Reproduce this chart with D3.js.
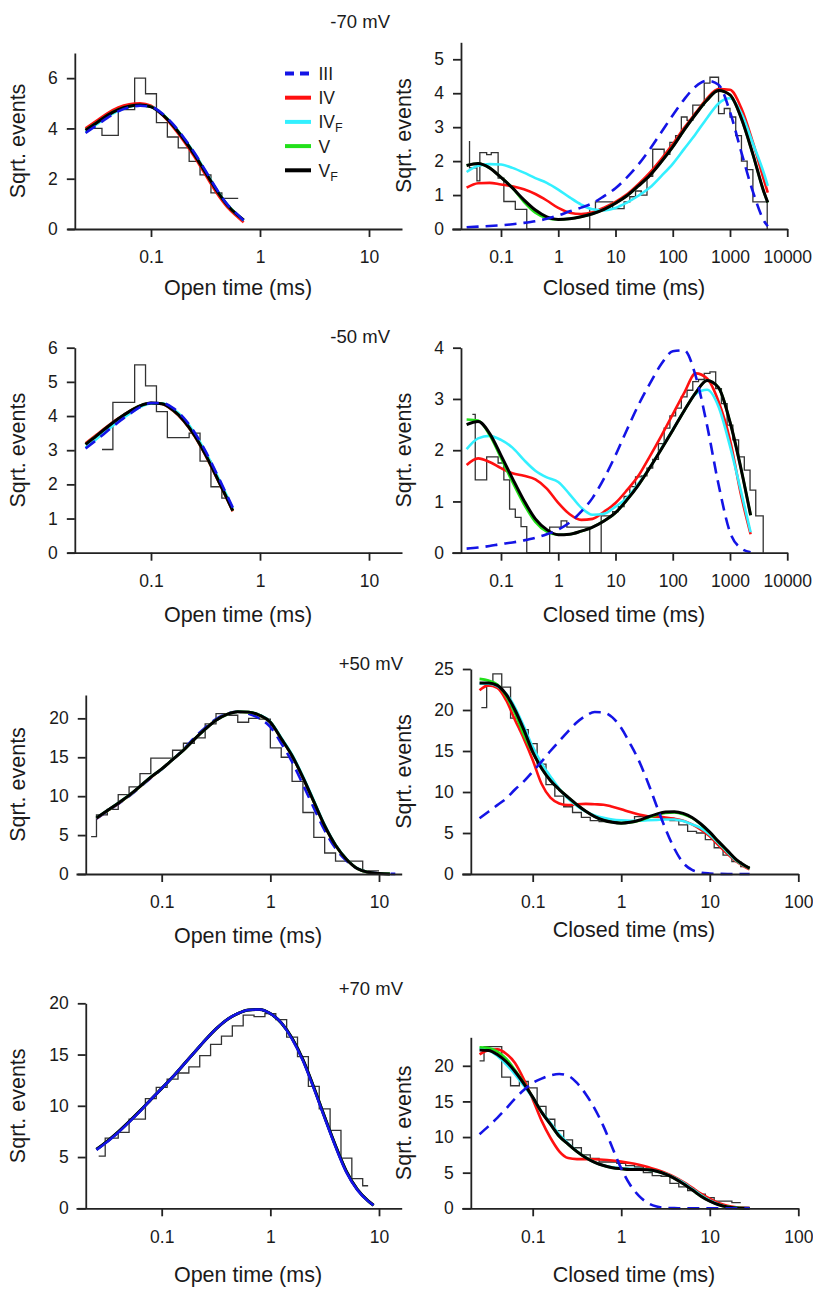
<!DOCTYPE html>
<html>
<head>
<meta charset="utf-8">
<script src="https://cdn.jsdelivr.net/npm/d3@7"></script>
<style>
  body { margin: 0; background: #fff; }
  svg text { font-family: "Liberation Sans", Arial, sans-serif; fill: #1a1a1a; }
</style>
</head>
<body>
<div id="chart-container"></div>
<script>
// ---- -70 mV, open times ----
const m70oT   = [0.0251, 0.0316, 0.0398, 0.0501, 0.0631, 0.0794, 0.1, 0.1259, 0.1585, 0.1995, 0.2512, 0.3162, 0.3981, 0.5012, 0.631, 0.7079];
const m70oIII = [3.82, 4.12, 4.42, 4.68, 4.84, 4.9, 4.86, 4.6, 4.18, 3.64, 3.02, 2.32, 1.6, 0.98, 0.55, 0.34];
const m70oIV  = [4.0, 4.3, 4.6, 4.83, 4.96, 5.0, 4.9, 4.55, 4.07, 3.5, 2.86, 2.15, 1.45, 0.87, 0.46, 0.27];
const m70oIVF = [3.86, 4.16, 4.46, 4.7, 4.86, 4.91, 4.86, 4.59, 4.16, 3.62, 3.0, 2.3, 1.58, 0.97, 0.54, 0.34];
const m70oV   = [3.93, 4.22, 4.52, 4.75, 4.88, 4.93, 4.86, 4.57, 4.13, 3.58, 2.95, 2.25, 1.55, 0.95, 0.53, 0.36];
const m70oVF  = [3.93, 4.22, 4.52, 4.75, 4.88, 4.93, 4.86, 4.57, 4.13, 3.58, 2.95, 2.25, 1.55, 0.95, 0.53, 0.36];
const m70oHist = [[0.0282, 4.0], [0.0355, 3.72], [0.0501, 4.75], [0.0708, 6.0], [0.0891, 5.38], [0.1122, 4.23], [0.1413, 3.66],
  [0.1778, 3.23], [0.2239, 2.69], [0.2818, 2.15], [0.3548, 1.44], [0.4467, 1.22], [0.631, 1.22]];

// ---- -70 mV, closed times ----
const m70cT   = [0.0251, 0.0398, 0.0631, 0.1, 0.1585, 0.2512, 0.3981, 0.631, 1, 1.585, 2.512, 3.981, 6.31, 10, 15.85, 25.12, 39.81, 63.1, 100, 158.5, 251.2, 398.1, 631, 1000, 1585, 2512, 3981, 4571];
const m70cIII = [0.05, 0.07, 0.09, 0.11, 0.14, 0.18, 0.23, 0.3, 0.4, 0.52, 0.63, 0.76, 0.97, 1.2, 1.52, 1.9, 2.35, 2.85, 3.35, 3.82, 4.2, 4.37, 4.25, 3.45, 2.25, 1.1, 0.22, 0.08];
const m70cIV  = [1.22, 1.35, 1.36, 1.31, 1.26, 1.17, 1.03, 0.84, 0.62, 0.48, 0.44, 0.49, 0.63, 0.8, 1.02, 1.32, 1.66, 2.06, 2.5, 2.98, 3.42, 3.85, 4.12, 4.1, 3.55, 2.55, 1.4, 1.07];
const m70cIVF = [1.68, 1.86, 1.91, 1.9, 1.8, 1.66, 1.5, 1.36, 1.16, 0.93, 0.72, 0.58, 0.55, 0.62, 0.78, 0.98, 1.22, 1.56, 1.92, 2.36, 2.8, 3.27, 3.7, 3.85, 3.4, 2.52, 1.6, 1.27];
const m70cV   = [1.87, 1.93, 1.8, 1.52, 1.21, 0.8, 0.48, 0.32, 0.28, 0.3, 0.36, 0.45, 0.58, 0.76, 0.98, 1.27, 1.58, 1.98, 2.42, 2.92, 3.38, 3.8, 4.08, 3.95, 3.25, 2.2, 1.05, 0.78];
const m70cVF  = [1.87, 1.93, 1.8, 1.52, 1.21, 0.86, 0.56, 0.36, 0.28, 0.3, 0.36, 0.45, 0.58, 0.76, 0.98, 1.27, 1.58, 1.98, 2.42, 2.92, 3.38, 3.8, 4.08, 3.95, 3.25, 2.2, 1.05, 0.78];
const m70cHist = [[0.0282, 2.59], [0.0282, 1.8], [0.038, 1.42], [0.0427, 2.25], [0.0562, 2.19], [0.0676, 2.25], [0.0891, 1.5],
  [0.1122, 0.81], [0.1778, 0.58], [0.2818, 0], [3.548, 0.58], [4.467, 0.8], [8.913, 0.6], [14.13, 0.8], [17.78, 0.95],
  [22.39, 1.12], [28.18, 1.0], [35.48, 1.55], [44.67, 2.35], [70.79, 2.2], [89.13, 2.55], [112.2, 2.75], [141.3, 3.3],
  [177.8, 3.2], [223.9, 3.65], [354.8, 4.3], [446.7, 4.47], [631, 3.4], [794.3, 3.55], [1000, 3.3], [1259, 2.75],
  [1585, 2.0], [1995, 1.75], [2512, 0.8], [4467, 0]];

// ---- -50 mV, open times ----
const m50oT   = [0.0251, 0.0316, 0.0398, 0.0501, 0.0631, 0.0794, 0.1, 0.1259, 0.1585, 0.1995, 0.2512, 0.3162, 0.3981, 0.5012, 0.5623];
const m50oIII = [3.05, 3.3, 3.56, 3.82, 4.05, 4.26, 4.38, 4.38, 4.24, 3.95, 3.52, 2.97, 2.33, 1.66, 1.32];
const m50oIV  = [3.2, 3.45, 3.7, 3.93, 4.14, 4.3, 4.38, 4.35, 4.16, 3.85, 3.41, 2.85, 2.21, 1.55, 1.21];
const m50oIVF = [3.08, 3.33, 3.59, 3.84, 4.06, 4.26, 4.37, 4.37, 4.22, 3.93, 3.5, 2.95, 2.31, 1.64, 1.3];
const m50oV   = [3.17, 3.42, 3.68, 3.92, 4.13, 4.3, 4.38, 4.36, 4.18, 3.87, 3.43, 2.87, 2.23, 1.57, 1.23];
const m50oVF  = [3.17, 3.42, 3.68, 3.92, 4.13, 4.3, 4.38, 4.36, 4.18, 3.87, 3.43, 2.87, 2.23, 1.57, 1.23];
const m50oHist = [[0.0355, 3.02], [0.0447, 4.4], [0.0708, 5.5], [0.0891, 4.88], [0.1122, 4.13], [0.1413, 3.37],
  [0.2239, 3.5], [0.2818, 2.68], [0.3548, 1.93], [0.4467, 1.6], [0.5012, 1.6]];

// ---- -50 mV, closed times ----
const m50cT   = [0.0251, 0.0398, 0.0631, 0.1, 0.1585, 0.2512, 0.3981, 0.631, 1, 1.585, 2.512, 3.981, 6.31, 10, 15.85, 25.12, 39.81, 63.1, 100, 158.5, 251.2, 398.1, 631, 1000, 1585, 2291];
const m50cIII = [0.08, 0.1, 0.13, 0.17, 0.2, 0.24, 0.29, 0.36, 0.45, 0.59, 0.8, 1.07, 1.45, 1.9, 2.4, 2.88, 3.3, 3.68, 3.93, 3.95, 3.45, 2.48, 1.33, 0.4, 0.08, 0.01];
const m50cIV  = [1.71, 1.84, 1.77, 1.65, 1.55, 1.5, 1.43, 1.25, 0.97, 0.75, 0.64, 0.66, 0.8, 0.97, 1.22, 1.5, 1.88, 2.28, 2.7, 3.12, 3.5, 3.4, 2.95, 2.2, 1.09, 0.36];
const m50cIVF = [2.02, 2.23, 2.28, 2.2, 2.05, 1.81, 1.6, 1.47, 1.38, 1.14, 0.88, 0.74, 0.76, 0.9, 1.07, 1.35, 1.66, 2.03, 2.4, 2.77, 3.1, 3.18, 2.85, 2.08, 1.16, 0.4];
const m50cV   = [2.6, 2.58, 2.3, 1.85, 1.38, 0.95, 0.6, 0.41, 0.35, 0.36, 0.42, 0.5, 0.62, 0.78, 1.03, 1.32, 1.66, 2.02, 2.39, 2.77, 3.12, 3.36, 3.22, 2.55, 1.6, 0.73];
const m50cVF  = [2.5, 2.56, 2.33, 1.9, 1.45, 1.02, 0.66, 0.45, 0.35, 0.36, 0.42, 0.5, 0.62, 0.78, 1.03, 1.32, 1.66, 2.02, 2.39, 2.77, 3.12, 3.36, 3.22, 2.55, 1.6, 0.73];
const m50cHist = [[0.0316, 2.7], [0.0355, 1.42], [0.0562, 1.87], [0.0891, 1.75], [0.1122, 1.42], [0.1413, 0.85],
  [0.1778, 0.69], [0.2239, 0.51], [0.2818, 0], [0.7079, 0.5], [0.8913, 0.5], [1.122, 0.62], [1.413, 0.5], [3.548, 0],
  [5.623, 0.72], [8.913, 0.8], [11.22, 0.9], [14.13, 1.1], [17.78, 1.29], [22.39, 1.48], [28.18, 1.5], [35.48, 1.65],
  [44.67, 1.82], [56.23, 2.13], [70.79, 2.43], [89.13, 2.67], [112.2, 2.82], [141.3, 3.04], [177.8, 3.17], [223.9, 3.34],
  [281.8, 3.38], [354.8, 3.5], [446.7, 3.53], [562.3, 3.2], [707.9, 2.91], [891.3, 2.49], [1122, 2.2], [1413, 1.87],
  [1778, 1.61], [2239, 1.22], [2818, 0.72], [3802, 0]];

// ---- +50 mV, open times ----
const p50oT   = [0.0251, 0.0316, 0.0398, 0.0501, 0.0631, 0.0794, 0.1, 0.1259, 0.1585, 0.1995, 0.2512, 0.3162, 0.3981, 0.5012, 0.631, 0.7943, 1, 1.259, 1.585, 1.995, 2.512, 3.162, 3.981, 5.012, 6.31, 7.943, 10, 12.59, 14.13];
const p50oIII = [7.1, 8.05, 9.0, 10.0, 11.15, 12.35, 13.45, 14.7, 16.0, 17.5, 18.8, 19.9, 20.6, 20.85, 20.6, 20.0, 18.9, 16.8, 14.4, 11.5, 8.5, 5.6, 3.3, 1.7, 0.7, 0.25, 0.08, 0.02, 0.01];
const p50oIV  = [7.15, 8.1, 9.05, 10.05, 11.2, 12.4, 13.5, 14.7, 15.9, 17.3, 18.6, 19.75, 20.5, 20.85, 20.8, 20.4, 19.5, 17.4, 15.2, 12.4, 9.3, 6.2, 3.7, 1.9, 0.7, 0.22, 0.06, 0.01, null];
const p50oIVF = [7.2, 8.15, 9.1, 10.1, 11.25, 12.45, 13.5, 14.7, 15.9, 17.3, 18.6, 19.75, 20.5, 20.85, 20.82, 20.45, 19.58, 17.52, 15.35, 12.55, 9.45, 6.32, 3.78, 1.95, 0.72, 0.23, 0.06, 0.01, null];
const p50oV   = [7.2, 8.15, 9.1, 10.1, 11.25, 12.45, 13.5, 14.7, 15.9, 17.3, 18.6, 19.75, 20.5, 20.85, 20.8, 20.4, 19.5, 17.4, 15.2, 12.4, 9.3, 6.2, 3.7, 1.9, 0.7, 0.22, 0.06, 0.01, null];
const p50oVF  = [7.2, 8.15, 9.1, 10.1, 11.25, 12.45, 13.5, 14.7, 15.9, 17.3, 18.6, 19.75, 20.5, 20.85, 20.8, 20.4, 19.5, 17.4, 15.2, 12.4, 9.3, 6.2, 3.7, 1.9, 0.7, 0.22, 0.06, 0.01, null];
const p50oHist = [[0.0224, 4.8], [0.0251, 7.6], [0.0316, 8.3], [0.0398, 10.2], [0.0501, 11.2], [0.0631, 12.9], [0.0794, 14.9],
  [0.1259, 15.9], [0.1585, 16.8], [0.1995, 17.5], [0.2512, 19.3], [0.3162, 20.6], [0.3981, 20.4], [0.5012, 19.5],
  [0.631, 20.0], [0.7943, 19.9], [1, 16.2], [1.259, 15.0], [1.585, 11.9], [1.995, 7.9], [2.512, 4.7], [3.162, 2.7],
  [3.981, 1.65], [7.079, 0.4], [10, 0.4]];

// ---- +50 mV, closed times ----
const p50cT   = [0.0251, 0.0316, 0.0398, 0.0501, 0.0631, 0.0794, 0.1, 0.1259, 0.1585, 0.1995, 0.2512, 0.3162, 0.3981, 0.5012, 0.631, 0.7943, 1, 1.259, 1.585, 1.995, 2.512, 3.162, 3.981, 5.012, 6.31, 7.943, 10, 12.59, 15.85, 19.95, 25.12, 28.18];
const p50cIII = [6.8, 7.6, 8.4, 9.2, 10.3, 11.3, 12.5, 13.7, 15.0, 16.2, 17.4, 18.5, 19.3, 19.75, 19.7, 19.1, 17.8, 15.9, 13.8, 11.2, 8.3, 5.5, 3.1, 1.35, 0.5, 0.17, 0.06, 0.02, 0, 0, 0, 0];
const p50cIV  = [22.4, 23.0, 22.7, 21.2, 18.8, 16.5, 13.9, 11.0, 9.3, 8.6, 8.4, 8.5, 8.55, 8.5, 8.45, 8.2, 7.9, 7.55, 7.25, 7.05, 7.0, 6.9, 6.75, 6.5, 6.05, 5.4, 4.6, 3.5, 2.45, 1.52, 0.85, 0.57];
const p50cIVF = [23.2, 23.2, 22.9, 22.0, 20.3, 18.0, 15.5, 13.5, 11.9, 10.4, 9.2, 8.3, 7.6, 7.15, 6.85, 6.65, 6.55, 6.5, 6.5, 6.55, 6.6, 6.65, 6.65, 6.45, 6.05, 5.6, 4.8, 3.75, 2.65, 1.63, 0.95, 0.65];
const p50cV   = [23.8, 23.6, 23.1, 21.7, 19.6, 17.0, 14.8, 12.9, 11.4, 10.3, 9.35, 8.45, 7.65, 7.0, 6.55, 6.3, 6.2, 6.3, 6.5, 6.85, 7.2, 7.45, 7.5, 7.3, 6.85, 6.05, 5.05, 3.9, 2.8, 1.72, 0.98, 0.68];
const p50cVF  = [23.3, 23.3, 23.0, 21.9, 20.0, 17.6, 14.9, 12.9, 11.4, 10.3, 9.35, 8.45, 7.65, 7.0, 6.55, 6.3, 6.2, 6.3, 6.55, 6.95, 7.3, 7.55, 7.6, 7.4, 6.9, 6.1, 5.1, 3.95, 2.85, 1.75, 1.0, 0.7];
const p50cHist = [[0.0263, 20.3], [0.0302, 22.9], [0.0355, 24.4], [0.0447, 22.8], [0.0562, 19.0], [0.0708, 17.6],
  [0.0891, 15.9], [0.1122, 13.4], [0.1413, 10.9], [0.1778, 9.5], [0.2239, 8.2], [0.2818, 7.5], [0.3548, 6.9],
  [0.4467, 6.5], [0.5623, 6.4], [0.7079, 6.6], [0.8913, 6.3], [1.122, 6.5], [1.413, 7.0], [1.778, 7.0], [2.239, 6.9],
  [2.818, 6.8], [3.548, 6.5], [4.467, 6.0], [5.623, 5.2], [7.079, 5.0], [8.913, 4.2], [11.22, 3.2], [14.13, 2.3],
  [17.78, 1.5], [22.39, 0.9], [28.18, 0.9]];

// ---- +70 mV, open times ----
const p70oT   = [0.0251, 0.0316, 0.0398, 0.0501, 0.0631, 0.0794, 0.1, 0.1259, 0.1585, 0.1995, 0.2512, 0.3162, 0.3981, 0.5012, 0.631, 0.7943, 1, 1.259, 1.585, 1.995, 2.512, 3.162, 3.981, 5.012, 6.31, 7.943, 8.913];
const p70oIII = [5.7, 6.5, 7.4, 8.4, 9.45, 10.6, 11.7, 12.8, 14.0, 15.2, 16.4, 17.5, 18.4, 19.0, 19.35, 19.4, 19.0, 18.1, 16.5, 14.4, 11.7, 8.8, 6.0, 3.5, 1.8, 0.7, 0.3];
const p70oIV  = [5.75, 6.55, 7.45, 8.45, 9.5, 10.6, 11.7, 12.8, 14.0, 15.2, 16.4, 17.5, 18.4, 19.0, 19.35, 19.4, 19.0, 18.1, 16.6, 14.5, 11.8, 8.9, 6.1, 3.6, 1.85, 0.72, 0.3];
const p70oIVF = [5.75, 6.55, 7.45, 8.45, 9.5, 10.6, 11.7, 12.8, 14.0, 15.2, 16.4, 17.5, 18.4, 19.0, 19.35, 19.4, 19.0, 18.1, 16.6, 14.5, 11.8, 8.9, 6.1, 3.6, 1.85, 0.72, 0.3];
const p70oV   = [5.75, 6.55, 7.45, 8.45, 9.5, 10.6, 11.7, 12.8, 14.0, 15.2, 16.4, 17.5, 18.4, 19.0, 19.35, 19.4, 19.0, 18.1, 16.6, 14.5, 11.8, 8.9, 6.1, 3.6, 1.85, 0.72, 0.3];
const p70oVF  = [5.75, 6.55, 7.45, 8.45, 9.5, 10.6, 11.7, 12.8, 14.0, 15.2, 16.4, 17.5, 18.4, 19.0, 19.35, 19.4, 19.0, 18.1, 16.6, 14.5, 11.8, 8.9, 6.1, 3.6, 1.85, 0.72, 0.3];
const p70oHist = [[0.0263, 5.1], [0.0302, 6.85], [0.0398, 7.4], [0.0501, 8.7], [0.0708, 10.7], [0.0891, 11.8],
  [0.1122, 12.6], [0.1413, 13.2], [0.1778, 13.8], [0.2239, 14.9], [0.2818, 16.0], [0.3548, 16.8], [0.4467, 17.8],
  [0.5623, 18.85], [0.7079, 18.7], [0.8913, 19.0], [1.122, 18.4], [1.413, 16.7], [1.778, 14.8], [2.239, 11.9],
  [2.818, 9.7], [3.548, 7.6], [4.467, 4.9], [5.623, 2.9], [7.079, 2.2], [7.943, 2.2]];

// ---- +70 mV, closed times ----
const p70cT   = [0.0251, 0.0316, 0.0398, 0.0501, 0.0631, 0.0794, 0.1, 0.1259, 0.1585, 0.1995, 0.2512, 0.3162, 0.3981, 0.5012, 0.631, 0.7943, 1, 1.259, 1.585, 1.995, 2.512, 3.162, 3.981, 5.012, 6.31, 7.943, 10, 12.59, 15.85, 19.95, 25.12, 28.18];
const p70cIII = [10.4, 11.5, 12.7, 14.0, 15.4, 16.6, 17.6, 18.2, 18.65, 18.85, 18.6, 17.6, 16.0, 14.0, 11.5, 8.5, 5.6, 3.3, 1.75, 0.75, 0.25, 0.06, 0.02, 0, 0, 0, 0, 0, 0, 0, 0, 0];
const p70cIV  = [21.6, 22.2, 22.3, 21.7, 20.4, 18.1, 15.3, 12.3, 9.9, 8.0, 7.05, 6.9, 6.9, 6.88, 6.82, 6.7, 6.55, 6.35, 6.1, 5.8, 5.4, 4.95, 4.4, 3.7, 2.9, 2.05, 1.35, 0.75, 0.36, 0.15, 0.06, 0.04];
const p70cIVF = [22.5, 22.2, 21.4, 20.2, 18.8, 17.2, 15.5, 13.6, 12.0, 10.4, 9.1, 8.0, 7.1, 6.45, 6.0, 5.75, 5.6, 5.55, 5.5, 5.4, 5.2, 4.85, 4.3, 3.6, 2.75, 1.85, 1.1, 0.55, 0.22, 0.08, 0.02, 0.01];
const p70cV   = [22.6, 22.5, 22.0, 21.0, 19.4, 17.6, 15.6, 13.5, 11.8, 10.1, 9.0, 7.95, 7.1, 6.45, 6.0, 5.7, 5.55, 5.45, 5.45, 5.4, 5.2, 4.8, 4.2, 3.45, 2.6, 1.7, 1.0, 0.5, 0.2, 0.06, 0.01, 0.0];
const p70cVF  = [22.2, 22.15, 21.6, 20.6, 19.2, 17.5, 15.6, 13.5, 11.8, 10.1, 9.0, 7.95, 7.1, 6.45, 6.0, 5.7, 5.55, 5.45, 5.45, 5.4, 5.2, 4.8, 4.2, 3.45, 2.6, 1.7, 1.0, 0.5, 0.2, 0.06, 0.01, 0.0];
const p70cHist = [[0.0251, 20.7], [0.0282, 22.7], [0.0447, 18.4], [0.0562, 17.2], [0.0708, 17.8], [0.0891, 16.9],
  [0.1122, 14.3], [0.1413, 12.5], [0.1778, 10.9], [0.2239, 9.6], [0.2818, 8.5], [0.3548, 7.5], [0.4467, 7.0],
  [0.5623, 6.5], [0.7079, 6.5], [0.8913, 6.3], [1.122, 6.0], [1.413, 5.8], [1.778, 5.0], [2.239, 4.6], [2.818, 4.5],
  [3.548, 3.5], [4.467, 3.0], [5.623, 2.5], [7.079, 2.0], [8.913, 1.5], [11.22, 1.0], [17.78, 0.8], [22.39, 0.8]];

const models = ["III", "IV", "IVF", "V", "VF"];
const legendLabels = [["III", ""], ["IV", ""], ["IV", "F"], ["V", ""], ["V", "F"]];
const colors = { III: "#1414e6", IV: "#ff1010", IVF: "#33f0ff", V: "#22e01a", VF: "#000000" };

const svg = d3.select("#chart-container")
  .append("svg")
    .attr("width", 813)
    .attr("height", 1290)
    .style("background", "#fff");

// layout of the eight panels (pixel positions only)
const openLeftTop = { xRef: [[0.1, 151], [10, 369]], xExt: [67, 402], xTicks: [0.1, 1, 10], yLabelX: 25 };
const closedRightTop = { xRef: [[0.1, 501], [1000, 730]], xExt: [451.7, 787.3], xTicks: [0.1, 1, 10, 100, 1000, 10000], yLabelX: 411 };
const openLeftBot = { xRef: [[0.1, 161.7], [10, 379]], xExt: [76, 401.7], xTicks: [0.1, 1, 10], yLabelX: 25 };
const closedRightBot = { xRef: [[0.1, 532.7], [100, 798.3]], xExt: [461.7, 798.3], xTicks: [0.1, 1, 10, 100], yLabelX: 411 };

const panels = [
  { ...openLeftTop, t: m70oT, hist: m70oHist, fits: { III: m70oIII, IV: m70oIV, IVF: m70oIVF, V: m70oV, VF: m70oVF },
    yRef: [[0, 229], [6, 53]], yMax: 7, yTicks: [0, 2, 4, 6], xLabel: "Open time (ms)", xLabelPos: [238, 295],
    title: "-70 mV", titlePos: [390, 28], legend: true },
  { ...closedRightTop, t: m70cT, hist: m70cHist, fits: { III: m70cIII, IV: m70cIV, IVF: m70cIVF, V: m70cV, VF: m70cVF },
    yRef: [[0, 229], [5, 42.3]], yMax: 5.5, yTicks: [0, 1, 2, 3, 4, 5], xLabel: "Closed time (ms)", xLabelPos: [624, 295] },
  { ...openLeftTop, t: m50oT, hist: m50oHist, fits: { III: m50oIII, IV: m50oIV, IVF: m50oIVF, V: m50oV, VF: m50oVF },
    yRef: [[0, 552.7], [6, 347.7]], yMax: 6, yTicks: [0, 1, 2, 3, 4, 5, 6], xLabel: "Open time (ms)", xLabelPos: [238, 622],
    title: "-50 mV", titlePos: [390, 343] },
  { ...closedRightTop, t: m50cT, hist: m50cHist, fits: { III: m50cIII, IV: m50cIV, IVF: m50cIVF, V: m50cV, VF: m50cVF },
    yRef: [[0, 552.7], [4, 347.7]], yMax: 4, yTicks: [0, 1, 2, 3, 4], xLabel: "Closed time (ms)", xLabelPos: [624, 622] },
  { ...openLeftBot, t: p50oT, hist: p50oHist, fits: { III: p50oIII, IV: p50oIV, IVF: p50oIVF, V: p50oV, VF: p50oVF },
    yRef: [[0, 874], [20, 695]], yMax: 23, yTicks: [0, 5, 10, 15, 20], xLabel: "Open time (ms)", xLabelPos: [248, 943],
    title: "+50 mV", titlePos: [403, 670], blueUnder: true },
  { ...closedRightBot, t: p50cT, hist: p50cHist, fits: { III: p50cIII, IV: p50cIV, IVF: p50cIVF, V: p50cV, VF: p50cVF },
    yRef: [[0, 874], [25, 669]], yMax: 25, yTicks: [0, 5, 10, 15, 20, 25], xLabel: "Closed time (ms)", xLabelPos: [634, 937] },
  { ...openLeftBot, t: p70oT, hist: p70oHist, fits: { III: p70oIII, IV: p70oIV, IVF: p70oIVF, V: p70oV, VF: p70oVF },
    yRef: [[0, 1208.3], [20, 1003.3]], yMax: 20, yTicks: [0, 5, 10, 15, 20], xLabel: "Open time (ms)", xLabelPos: [248, 1282],
    title: "+70 mV", titlePos: [403, 995], blueSolid: true },
  { ...closedRightBot, t: p70cT, hist: p70cHist, fits: { III: p70cIII, IV: p70cIV, IVF: p70cIVF, V: p70cV, VF: p70cVF },
    yRef: [[0, 1208.3], [20, 1037.3]], yMax: 24, yTicks: [0, 5, 10, 15, 20], xLabel: "Closed time (ms)", xLabelPos: [634, 1282] }
];

function drawPanel(p) {
  // scales: anchor on two known tick positions, then widen to the drawn axis extent
  const x = d3.scaleLog().domain([p.xRef[0][0], p.xRef[1][0]]).range([p.xRef[0][1], p.xRef[1][1]]);
  x.domain([x.invert(p.xExt[0]), x.invert(p.xExt[1])]).range(p.xExt);
  const y = d3.scaleLinear().domain([p.yRef[0][0], p.yRef[1][0]]).range([p.yRef[0][1], p.yRef[1][1]]);
  y.domain([0, p.yMax]).range([y(0), y(p.yMax)]);

  const y0 = y(0);
  const yAxisX = x(0.02);
  const g = svg.append("g");

  // histogram
  g.append("path")
    .datum(p.hist)
    .attr("d", d3.line().x(d => x(d[0])).y(d => y(d[1])).curve(d3.curveStepAfter))
    .attr("fill", "none")
    .attr("stroke", "#333")
    .attr("stroke-width", 1.3);

  const line = d3.line()
    .defined(d => d[1] != null)
    .x(d => x(d[0]))
    .y(d => y(d[1]))
    .curve(d3.curveMonotoneX);

  let order = ["IV", "IVF", "V", "VF", "III"];
  if (p.blueUnder) order = ["III", "IV", "IVF", "V", "VF"];

  order.forEach(k => {
    const pts = p.t.map((t, i) => [t, p.fits[k][i]]);
    const path = g.append("path")
      .datum(pts)
      .attr("d", line)
      .attr("fill", "none")
      .attr("stroke", colors[k])
      .attr("stroke-width", k === "VF" ? 3 : 2.6)
      .attr("stroke-linejoin", "round");
    if (k === "III" && !p.blueSolid) path.attr("stroke-dasharray", "12,7");
  });

  // axes
  const xAxis = g.append("g")
    .attr("transform", `translate(0,${y0})`)
    .call(d3.axisBottom(x).tickValues(p.xTicks).tickFormat(d => String(d)).tickSize(8).tickSizeOuter(0).tickPadding(14));
  const yAxis = g.append("g")
    .attr("transform", `translate(${yAxisX},0)`)
    .call(d3.axisLeft(y).tickValues(p.yTicks).tickFormat(d => String(d)).tickSize(8).tickSizeOuter(0).tickPadding(9));

  [xAxis, yAxis].forEach(a => {
    a.select(".domain").attr("stroke", "#222").attr("stroke-width", 1.8);
    a.selectAll(".tick line").attr("stroke", "#222").attr("stroke-width", 1.8);
    a.selectAll(".tick text").style("font-size", "17.5px").attr("fill", "#1a1a1a")
      .style("font-family", "'Liberation Sans', Arial, sans-serif");
  });

  g.append("text")
    .attr("x", p.xLabelPos[0])
    .attr("y", p.xLabelPos[1])
    .attr("text-anchor", "middle")
    .style("font-size", "21.5px")
    .text(p.xLabel);

  g.append("text")
    .attr("transform", `translate(${p.yLabelX},${(y0 + y(p.yMax)) / 2}) rotate(-90)`)
    .attr("text-anchor", "middle")
    .style("font-size", "21.5px")
    .text("Sqrt. events");

  if (p.title) {
    g.append("text")
      .attr("x", p.titlePos[0])
      .attr("y", p.titlePos[1])
      .attr("text-anchor", "end")
      .style("font-size", "18.5px")
      .text(p.title);
  }

  if (p.legend) {
    const lg = g.append("g");
    models.forEach((k, i) => {
      const ly = 73.5 + i * 24.2;
      const ln = lg.append("line")
        .attr("x1", 285).attr("x2", 311)
        .attr("y1", ly).attr("y2", ly)
        .attr("stroke", colors[k])
        .attr("stroke-width", 4);
      if (k === "III") ln.attr("stroke-dasharray", "9,6");
      const tx = lg.append("text")
        .attr("x", 318.5)
        .attr("y", ly + 6.5)
        .style("font-size", "17.5px");
      tx.append("tspan").text(legendLabels[i][0]);
      if (legendLabels[i][1]) {
        tx.append("tspan")
          .attr("dy", 4)
          .style("font-size", "12.5px")
          .text(legendLabels[i][1]);
      }
    });
  }
}

panels.forEach(drawPanel);
</script>
</body>
</html>
